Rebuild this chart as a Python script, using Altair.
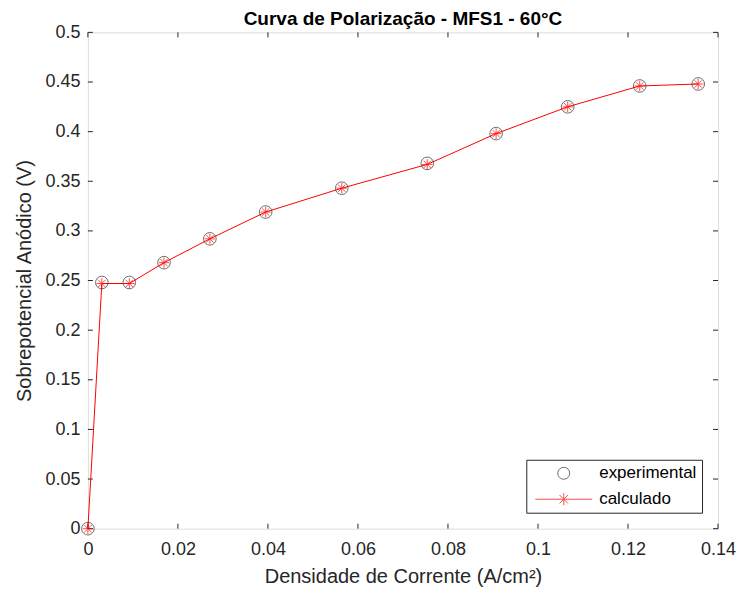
import altair as alt
import pandas as pd

# ---- data ----
corrente = [0.0, 0.0031, 0.0092, 0.0169, 0.0271, 0.0395, 0.0564, 0.0754, 0.0907, 0.1066, 0.1226, 0.1356]
experimental = [0.0, 0.248, 0.248, 0.268, 0.292, 0.319, 0.343, 0.368, 0.398, 0.425, 0.446, 0.448]
calculado = [0.0, 0.247, 0.247, 0.268, 0.292, 0.319, 0.343, 0.367, 0.398, 0.425, 0.446, 0.448]
x_ticks = [0, 0.02, 0.04, 0.06, 0.08, 0.1, 0.12, 0.14]
y_ticks = [0, 0.05, 0.1, 0.15, 0.2, 0.25, 0.3, 0.35, 0.4, 0.45, 0.5]
series_names = ["experimental", "calculado"]

W, H = 631, 497
FONT = "Liberation Sans"
AX = "#262626"

df_exp = pd.DataFrame({"x": corrente, "y": experimental})
df_calc = pd.DataFrame({"x": corrente, "y": calculado})
df_leg = pd.DataFrame({"serie": series_names})
df_xt = pd.DataFrame({"t": x_ticks})
df_yt = pd.DataFrame({"t": y_ticks})

xscale = alt.Scale(domain=[0, 0.14], nice=False, zero=False)
yscale = alt.Scale(domain=[0, 0.5], nice=False, zero=False)
xaxis = alt.Axis(title="Densidade de Corrente (A/cm²)", values=x_ticks, format="~g",
                 ticks=False, domain=False, grid=False, labelPadding=12,
                 titlePadding=8, labelFontSize=18, titleFontSize=20,
                 labelFont=FONT, titleFont=FONT, labelColor=AX, titleColor=AX,
                 titleFontWeight="normal", labelFlush=False)
yaxis = alt.Axis(title="Sobrepotencial Anódico (V)", values=y_ticks, format="~g",
                 ticks=False, domain=False, grid=False, labelPadding=8,
                 titlePadding=10, labelFontSize=18, titleFontSize=20,
                 labelFont=FONT, titleFont=FONT, labelColor=AX, titleColor=AX,
                 titleFontWeight="normal", labelFlush=False)

def X(field):
    return alt.X(f"{field}:Q", scale=xscale, axis=xaxis)

def Y(field):
    return alt.Y(f"{field}:Q", scale=yscale, axis=yaxis)

ASTER = "M-1,0L1,0M0,-1L0,1M-0.7,-0.7L0.7,0.7M-0.7,0.7L0.7,-0.7"
ASTER_LINE = "M-4.75,0L4.75,0M0,-1L0,1M-0.7,-0.7L0.7,0.7M-0.7,0.7L0.7,-0.7"

line = alt.Chart(df_calc).mark_line(color="#ff0000", strokeWidth=1).encode(x=X("x"), y=Y("y"))
circles = alt.Chart(df_exp).mark_point(shape="circle", size=160, color="#333333",
                                       strokeWidth=1, filled=False).encode(x=X("x"), y=Y("y"))
asters = alt.Chart(df_calc).mark_point(shape=ASTER, size=110, color="#ff0000",
                                       strokeWidth=1, filled=False).encode(x=X("x"), y=Y("y"))

leg = alt.Legend(title=None, orient="bottom-right", offset=16,
                 strokeColor=AX, fillColor="white", padding=5,
                 symbolSize=144, symbolStrokeWidth=1, symbolOffset=24,
                 labelOffset=27, rowPadding=8, labelFontSize=17,
                 labelFont=FONT, labelColor="black", cornerRadius=0)

legend_layer = alt.Chart(df_leg).mark_point(filled=False, size=0.0001, strokeWidth=1).encode(
    x=alt.value(W / 2), y=alt.value(H / 2),
    shape=alt.Shape("serie:N", scale=alt.Scale(domain=series_names, range=["circle", ASTER_LINE]),
                    legend=leg),
    color=alt.Color("serie:N", scale=alt.Scale(domain=series_names, range=["#333333", "#ff0000"]),
                    legend=leg),
)

TL = 5
xt_bot = alt.Chart(df_xt).mark_rule(color=AX, strokeWidth=1).encode(x=X("t"), y=alt.value(H), y2=alt.value(H - TL))
xt_top = alt.Chart(df_xt).mark_rule(color=AX, strokeWidth=1).encode(x=X("t"), y=alt.value(0), y2=alt.value(TL))
yt_left = alt.Chart(df_yt).mark_rule(color=AX, strokeWidth=1).encode(y=Y("t"), x=alt.value(0), x2=alt.value(TL))
yt_right = alt.Chart(df_yt).mark_rule(color=AX, strokeWidth=1).encode(y=Y("t"), x=alt.value(W), x2=alt.value(W - TL))

chart = alt.layer(xt_bot, xt_top, yt_left, yt_right, line, circles, asters, legend_layer).properties(
    width=W, height=H,
    title=alt.TitleParams("Curva de Polarização - MFS1 - 60°C", fontSize=19, fontWeight="bold",
                          font=FONT, color="black", anchor="middle", offset=-3, dy=3, frame="group"),
    autosize=alt.AutoSizeParams(type="none"),
    padding={"left": 80, "top": 24, "right": 18, "bottom": 65},
).configure_view(stroke=AX, strokeWidth=1).configure(background="white")

chart.save("out.html", embed_options={"renderer": "svg", "actions": False})
